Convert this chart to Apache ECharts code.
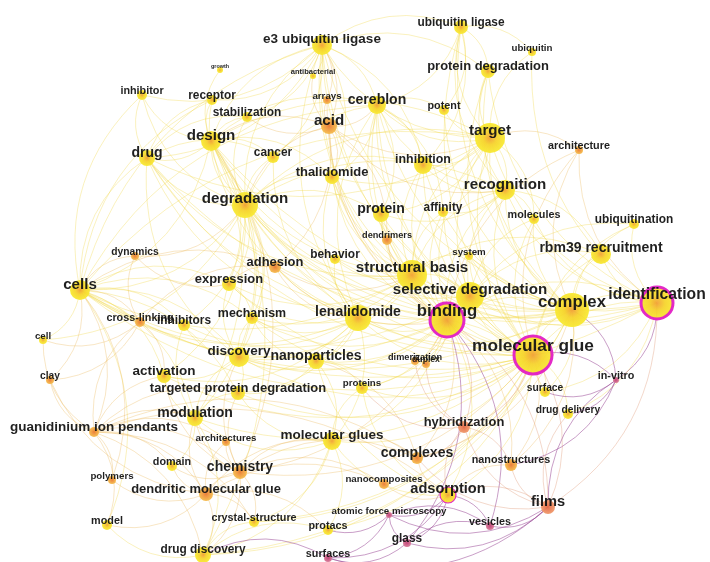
<!DOCTYPE html>
<html>
<head>
<meta charset="utf-8">
<script src="https://cdn.jsdelivr.net/npm/echarts@6/dist/echarts.min.js"></script>
<style>html,body{margin:0;padding:0;background:#fff}#c{width:710px;height:562px}</style>
</head>
<body>
<div id="c"></div>
<script>
// keyword: [name, mapX, mapY, occurrences-weight, link-strength (label weight), period]
// period: y = recent, o = mid, r = earlier, p = earliest
const keywords = [
 ['e3 ubiquitin ligase',322,45,10,12.5,'y'],
 ['ubiquitin ligase',461,27,7,11,'y'],
 ['ubiquitin',532,52,4,9,'y'],
 ['protein degradation',488,71,7,12,'y'],
 ['growth',220,70,3,5,'y'],
 ['antibacterial',313,76,3,7,'y'],
 ['inhibitor',142,95,5,10,'y'],
 ['receptor',212,100,5,11,'y'],
 ['arrays',327,100,4,9,'o'],
 ['cereblon',377,105,9,13,'y'],
 ['potent',444,110,5,10,'y'],
 ['stabilization',247,117,5,11,'y'],
 ['acid',329,126,8,14,'o'],
 ['design',211,141,10,14,'y'],
 ['target',490,138,15,14,'y'],
 ['architecture',579,150,4,10,'o'],
 ['drug',147,158,8,13,'y'],
 ['cancer',273,157,6,11,'y'],
 ['inhibition',423,165,9,11.5,'y'],
 ['thalidomide',332,177,7,12,'y'],
 ['recognition',505,190,10,14,'y'],
 ['degradation',245,205,13,14,'y'],
 ['affinity',443,212,5,11,'y'],
 ['protein',381,214,8,13,'y'],
 ['molecules',534,219,5,10,'y'],
 ['ubiquitination',634,224,5,11,'y'],
 ['dendrimers',387,240,5,8.5,'o'],
 ['system',469,256,4,9,'y'],
 ['rbm39 recruitment',601,254,10,13,'y'],
 ['dynamics',135,256,4,9.5,'o'],
 ['adhesion',275,267,6,12,'o'],
 ['behavior',335,259,5,11,'y'],
 ['expression',229,284,7,12,'y'],
 ['structural basis',412,275,15,14,'y'],
 ['selective degradation',470,296,14,14,'y'],
 ['cells',80,290,10,14,'y'],
 ['complex',572,310,17,15.5,'y'],
 ['identification',657,303,16,14.5,'y'],
 ['binding',447,320,17,15.5,'y'],
 ['lenalidomide',358,318,13,13,'y'],
 ['cross-linking',140,322,5,10,'o'],
 ['inhibitors',184,325,6,11,'y'],
 ['mechanism',252,318,6,11.5,'y'],
 ['cell',43,340,4,9,'y'],
 ['molecular glue',533,355,19,16,'y'],
 ['discovery',239,357,10,12.5,'y'],
 ['nanoparticles',316,361,8,13,'y'],
 ['dimerization',415,361,4,8.5,'o'],
 ['duplex',426,364,4,8,'o'],
 ['clay',50,380,4,9.5,'o'],
 ['activation',164,376,7,12.5,'y'],
 ['proteins',362,388,6,9,'y'],
 ['surface',545,392,5,9.5,'y'],
 ['in-vitro',616,380,3,10,'p'],
 ['targeted protein degradation',238,393,7,12,'y'],
 ['modulation',195,418,8,13,'y'],
 ['drug delivery',568,414,5,9.5,'y'],
 ['guanidinium ion pendants',94,432,5,12.5,'o'],
 ['architectures',226,442,4,9,'o'],
 ['hybridization',464,427,6,12,'r'],
 ['molecular glues',332,441,9,12.5,'y'],
 ['complexes',417,458,6,13,'o'],
 ['domain',172,466,5,10,'y'],
 ['chemistry',240,472,7,13,'o'],
 ['nanostructures',511,465,6,10,'o'],
 ['polymers',112,480,4,9,'o'],
 ['nanocomposites',384,484,5,9,'o'],
 ['dendritic molecular glue',206,494,7,12,'o'],
 ['adsorption',448,495,8,13.5,'y'],
 ['films',548,507,7,13.5,'r'],
 ['atomic force microscopy',389,515,3,9,'p'],
 ['crystal-structure',254,522,5,10,'y'],
 ['model',107,525,5,10,'y'],
 ['protacs',328,530,5,10,'y'],
 ['vesicles',490,526,4,10,'p'],
 ['glass',407,543,4,11,'p'],
 ['drug discovery',203,555,8,11,'y'],
 ['surfaces',328,558,4,10,'p']
];

// citation bursts: [name, strength]
const bursts = [['binding',3],['molecular glue',3],['identification',3],['adsorption',1.2]];

// co-occurrence links: [keyword, [linked keywords]]
const adjacency = [
 ['molecular glue',['binding','complex','identification','structural basis','selective degradation','lenalidomide','degradation','target','recognition','design','e3 ubiquitin ligase','cereblon','protein degradation','ubiquitin ligase','drug discovery','chemistry','modulation','discovery','targeted protein degradation','molecular glues','rbm39 recruitment','ubiquitination','surface','drug delivery','in-vitro','hybridization','complexes','films','adsorption','cells','drug','thalidomide','protein','affinity','inhibition','architecture','nanostructures','proteins','system','molecules','activation','crystal-structure','protacs','expression','mechanism']],
 ['binding',['complex','identification','structural basis','selective degradation','lenalidomide','degradation','target','recognition','cereblon','acid','design','thalidomide','protein','affinity','dendrimers','adhesion','nanoparticles','dimerization','duplex','hybridization','complexes','adsorption','surface','films','glass','proteins','molecular glues','chemistry','cells','inhibition','mechanism','discovery','arrays','architecture','vesicles','nanostructures','drug','e3 ubiquitin ligase']],
 ['complex',['identification','structural basis','selective degradation','rbm39 recruitment','ubiquitination','target','recognition','molecules','system','e3 ubiquitin ligase','ubiquitin ligase','protein degradation','lenalidomide','degradation','design','cereblon','cells','crystal-structure','drug discovery','in-vitro','surface','nanostructures','complexes','architecture','inhibition','potent','protein','drug']],
 ['identification',['rbm39 recruitment','ubiquitination','architecture','target','recognition','structural basis','selective degradation','degradation','design','in-vitro','drug delivery','films','cells','ubiquitin','molecules','protein degradation','system','surface']],
 ['structural basis',['lenalidomide','selective degradation','degradation','cereblon','e3 ubiquitin ligase','thalidomide','protein','target','recognition','design','cells','expression','mechanism','discovery','behavior','adhesion','inhibition','affinity','dendrimers','system','drug','rbm39 recruitment']],
 ['selective degradation',['lenalidomide','degradation','cereblon','target','recognition','rbm39 recruitment','molecules','system','ubiquitination','thalidomide','e3 ubiquitin ligase','cells','nanoparticles','proteins']],
 ['lenalidomide',['degradation','thalidomide','cereblon','expression','mechanism','discovery','nanoparticles','cells','inhibitors','activation','design','drug','e3 ubiquitin ligase','targeted protein degradation','molecular glues','behavior','adhesion','cancer']],
 ['degradation',['design','drug','cancer','cells','thalidomide','cereblon','e3 ubiquitin ligase','receptor','stabilization','inhibitor','expression','dynamics','protein','target','recognition','inhibition','activation','discovery','mechanism','inhibitors','modulation','acid','cell']],
 ['design',['drug','inhibitor','receptor','stabilization','acid','cancer','cells','e3 ubiquitin ligase','discovery','modulation','chemistry','drug discovery','target','thalidomide','cereblon','growth','expression']],
 ['cells',['dynamics','expression','cell','cross-linking','inhibitors','activation','clay','discovery','drug','inhibitor','modulation','guanidinium ion pendants','model','adhesion','mechanism','targeted protein degradation','e3 ubiquitin ligase','cereblon','target','receptor','polymers']],
 ['target',['protein degradation','ubiquitin ligase','potent','inhibition','cereblon','recognition','ubiquitin','architecture','e3 ubiquitin ligase','acid','protein','affinity','thalidomide','drug','molecules']],
 ['recognition',['affinity','molecules','protein','inhibition','cereblon','ubiquitin ligase','protein degradation','rbm39 recruitment','acid']],
 ['e3 ubiquitin ligase',['ubiquitin ligase','cereblon','antibacterial','arrays','acid','receptor','stabilization','protein degradation','thalidomide','inhibition','cancer','drug','inhibitor']],
 ['ubiquitin ligase',['protein degradation','ubiquitin','cereblon','potent','inhibition']],
 ['cereblon',['thalidomide','inhibition','potent','acid','protein','affinity']],
 ['acid',['arrays','thalidomide','dendrimers','adhesion','antibacterial','stabilization']],
 ['guanidinium ion pendants',['clay','cell','polymers','domain','chemistry','dendritic molecular glue','model','architectures','modulation','drug discovery','crystal-structure','activation','cross-linking','complexes','adsorption','targeted protein degradation']],
 ['dendritic molecular glue',['chemistry','domain','polymers','model','crystal-structure','drug discovery','protacs','molecular glues','architectures','modulation','clay','nanocomposites']],
 ['chemistry',['modulation','domain','molecular glues','drug discovery','crystal-structure','architectures','targeted protein degradation','complexes','nanocomposites','discovery','activation']],
 ['adsorption',['films','glass','vesicles','nanostructures','nanocomposites','complexes','hybridization','atomic force microscopy','surfaces','molecular glues','proteins','nanoparticles']],
 ['films',['glass','vesicles','nanostructures','in-vitro','surfaces','atomic force microscopy','hybridization','drug delivery','complexes']],
 ['glass',['surfaces','atomic force microscopy','vesicles']],
 ['nanoparticles',['proteins','discovery','targeted protein degradation','molecular glues','mechanism','complexes']],
 ['molecular glues',['proteins','protacs','complexes','crystal-structure','drug discovery','modulation','targeted protein degradation']],
 ['hybridization',['duplex','dimerization','nanostructures','complexes','proteins']],
 ['modulation',['activation','targeted protein degradation','discovery','domain','drug discovery','inhibitors']],
 ['discovery',['activation','targeted protein degradation','mechanism','inhibitors','expression','drug']],
 ['drug',['inhibitor','receptor','cancer','stabilization']],
 ['expression',['dynamics','adhesion','mechanism']],
 ['in-vitro',['drug delivery','nanostructures','surface']],
 ['cross-linking',['clay','cell','activation','inhibitors','adhesion','dynamics']],
 ['drug discovery',['crystal-structure','protacs','model','surfaces']],
 ['atomic force microscopy',['surfaces','vesicles','protacs']]
];

const periodFill = {
  y: ['#f2a23a', '#f6d42e', '#f8ea32'],
  o: ['#ea7a36', '#f09a40', '#f5bc4c'],
  r: ['#e36a48', '#ea8058', '#ef9a6c'],
  p: ['#c2467a', '#cc5a84', '#d87a98']
};
const periodLine = { y: '#f1d844', o: '#ebb85a', r: '#dc8f6a', p: '#9a4a96' };
const rank = { p: 0, r: 1, o: 2, y: 3 };

const period = {};
keywords.forEach(k => period[k[0]] = k[5]);
const burstMap = {};
bursts.forEach(b => burstMap[b[0]] = b[1]);

const nodes = keywords.map(k => {
  const [name, x, y, w, s, p] = k;
  const f = periodFill[p];
  const fs = s * 1.08;
  const node = {
    name: name,
    value: [x, y],
    symbolSize: w * 2,
    itemStyle: {
      color: {
        type: 'radial', x: 0.5, y: 0.5, r: 0.5,
        colorStops: [{offset: 0, color: f[0]}, {offset: 0.45, color: f[1]}, {offset: 1, color: f[2]}]
      },
      opacity: 0.95
    },
    label: {
      show: true,
      position: 'top',
      verticalAlign: 'middle',
      distance: 3 + w * 0.25 - w,
      fontSize: fs,
      fontWeight: 'bold',
      fontFamily: 'Liberation Sans, Arial, sans-serif',
      color: '#141414'
    }
  };
  if (burstMap[name]) {
    node.itemStyle.borderColor = '#e21fc6';
    node.itemStyle.borderWidth = burstMap[name];
  }
  return node;
});

const seen = new Set();
const links = [];
adjacency.forEach(([src, targets]) => {
  targets.forEach(t => {
    if (!(t in period) || !(src in period) || t === src) return;
    const key = [src, t].sort().join('||');
    if (seen.has(key)) return;
    seen.add(key);
    const p = rank[period[src]] < rank[period[t]] ? period[src] : period[t];
    links.push({
      source: src, target: t,
      lineStyle: { color: periodLine[p], opacity: p === 'p' ? 0.6 : 0.5, width: p === 'p' ? 0.9 : 0.7, curveness: 0.28 }
    });
  });
});

const chart = echarts.init(document.getElementById('c'), null, { renderer: 'canvas' });
chart.setOption({
  animation: false,
  backgroundColor: '#ffffff',
  grid: { left: 0, right: 0, top: 0, bottom: 0 },
  xAxis: { type: 'value', min: 0, max: 710, show: false },
  yAxis: { type: 'value', min: 0, max: 562, inverse: true, show: false },
  series: [{
    type: 'graph',
    coordinateSystem: 'cartesian2d',
    data: nodes,
    links: links,
    symbol: 'circle',
    lineStyle: { curveness: 0.28 },
    emphasis: { disabled: true }
  }]
});
</script>
</body>
</html>
